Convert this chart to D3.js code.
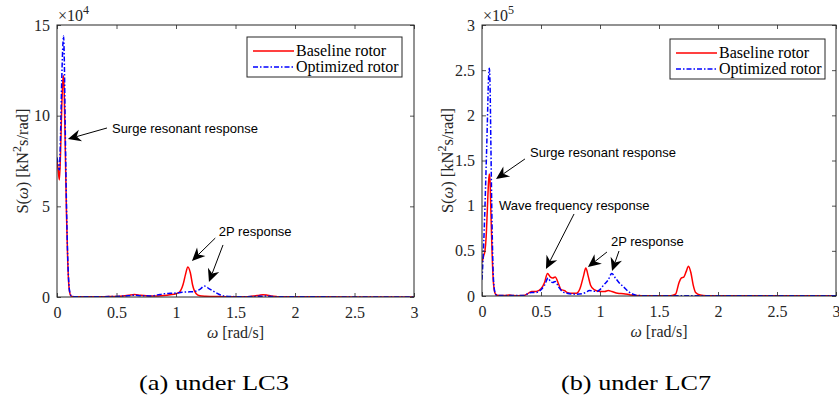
<!DOCTYPE html>
<html><head><meta charset="utf-8">
<script src="https://cdn.jsdelivr.net/npm/d3@7"></script>
<style>body{margin:0;background:#fff} svg{display:block}</style>
</head><body><svg id="c" width="839" height="403"></svg>
<script>
// ---------- DATA ----------
// Panel (a) under LC3, S(w) in units of 1e4 kN^2 s/rad
const freqA_base = [0,0.01,0.02,0.03,0.04,0.05,0.055,0.06,0.07,0.08,0.09,0.1,0.11,0.12,0.15,0.2,0.3,0.4,0.5,0.55,0.6,0.65,0.7,0.75,0.8,0.85,0.9,0.95,1.0,1.03,1.06,1.08,1.1,1.12,1.14,1.17,1.2,1.25,1.3,1.4,1.5,1.6,1.65,1.7,1.73,1.76,1.8,1.85,1.9,2.0,2.5,3.0];
const specA_base = [7.5,7.0,6.45,8.0,10.5,12.0,12.2,11.5,8.0,4.5,2.0,0.6,0.15,0.05,0.01,0.01,0.01,0.02,0.03,0.05,0.09,0.14,0.1,0.07,0.06,0.06,0.08,0.12,0.18,0.28,0.7,1.25,1.65,1.35,0.65,0.18,0.07,0.04,0.03,0.02,0.01,0.02,0.05,0.1,0.13,0.11,0.05,0.02,0.01,0.01,0.005,0.005];
const freqA_opt = [0,0.01,0.02,0.03,0.04,0.05,0.055,0.06,0.07,0.08,0.09,0.1,0.11,0.12,0.15,0.2,0.3,0.4,0.5,0.6,0.65,0.7,0.8,0.85,0.9,0.95,1.0,1.05,1.1,1.15,1.2,1.24,1.28,1.32,1.36,1.4,1.5,1.6,1.7,1.75,1.8,1.9,2.0,2.5,3.0];
const specA_opt = [7.7,7.3,7.0,9.0,12.0,14.0,14.4,13.5,9.0,5.0,2.2,0.7,0.2,0.06,0.02,0.01,0.01,0.02,0.03,0.07,0.1,0.07,0.06,0.12,0.18,0.2,0.22,0.26,0.28,0.3,0.42,0.6,0.45,0.3,0.15,0.06,0.02,0.02,0.04,0.05,0.03,0.01,0.01,0.005,0.005];

// Panel (b) under LC7, S(w) in units of 1e5 kN^2 s/rad
const freqB_base = [0,0.015,0.025,0.035,0.045,0.055,0.062,0.068,0.075,0.085,0.095,0.105,0.115,0.13,0.16,0.2,0.23,0.26,0.3,0.35,0.38,0.42,0.46,0.5,0.53,0.555,0.58,0.6,0.62,0.65,0.67,0.7,0.72,0.76,0.8,0.83,0.86,0.88,0.9,0.92,0.95,1.0,1.04,1.07,1.1,1.15,1.2,1.25,1.3,1.4,1.6,1.64,1.67,1.69,1.71,1.73,1.75,1.77,1.79,1.81,1.85,1.9,2.0,3.0];
const specB_base = [0.37,0.45,0.5,0.65,0.95,1.25,1.35,1.28,0.95,0.5,0.18,0.06,0.02,0.008,0.005,0.005,0.012,0.005,0.004,0.005,0.02,0.05,0.05,0.08,0.15,0.25,0.21,0.2,0.21,0.13,0.07,0.06,0.04,0.03,0.03,0.08,0.22,0.31,0.22,0.12,0.07,0.05,0.05,0.06,0.05,0.03,0.025,0.015,0.005,0.002,0.002,0.02,0.15,0.2,0.21,0.27,0.33,0.26,0.12,0.04,0.01,0.003,0.002,0.002];
const freqB_opt = [0,0.015,0.03,0.045,0.055,0.062,0.068,0.075,0.085,0.095,0.105,0.115,0.13,0.16,0.3,0.35,0.38,0.42,0.46,0.5,0.53,0.56,0.58,0.6,0.62,0.65,0.68,0.72,0.8,0.85,0.88,0.91,0.94,0.97,1.0,1.03,1.07,1.1,1.13,1.16,1.2,1.24,1.28,1.32,1.5,3.0];
const specB_opt = [0.18,0.6,1.2,1.9,2.4,2.52,2.35,1.7,0.8,0.25,0.07,0.02,0.008,0.005,0.005,0.005,0.02,0.04,0.04,0.07,0.12,0.2,0.16,0.15,0.16,0.1,0.05,0.03,0.02,0.025,0.04,0.06,0.055,0.05,0.07,0.12,0.18,0.25,0.2,0.15,0.1,0.05,0.02,0.005,0.002,0.002];

const xTicks = [0,0.5,1,1.5,2,2.5,3];
const yTicksA = [0,5,10,15];
const yTicksB = [0,0.5,1,1.5,2,2.5,3];
const seriesNames = ["Baseline rotor","Optimized rotor"];
const exponents = ["4","5"];
const captions = ["(a) under LC3","(b) under LC7"];

// ---------- DRAWING ----------
const svg = d3.select("#c");
const INK = "#262626";
const SERIF = "Liberation Serif";
const SANS = "Liberation Sans";
const colors = ["#ff0000","#0000ff"];
const dashes = [null,"5,2,1.5,2"];

function arrow(g, x1, y1, x2, y2) {
  const ang = Math.atan2(y2 - y1, x2 - x1);
  const L = 13, W = 6, notch = 9;
  const ux = Math.cos(ang), uy = Math.sin(ang), px = -uy, py = ux;
  const bx = x2 - ux * L, by = y2 - uy * L;
  const nx = x2 - ux * notch, ny = y2 - uy * notch;
  g.append("line").attr("x1", x1).attr("y1", y1).attr("x2", nx).attr("y2", ny)
    .attr("stroke", "#000").attr("stroke-width", 1);
  g.append("path").attr("d", `M${x2},${y2}L${bx + px * W},${by + py * W}L${nx},${ny}L${bx - px * W},${by - py * W}Z`)
    .attr("fill", "#000");
}

function panel(cfg) {
  const g = svg.append("g");
  const x = d3.scaleLinear().domain([0, 3]).range([cfg.left, cfg.right]);
  const y = d3.scaleLinear().domain([0, cfg.ymax]).range([cfg.bottom, cfg.top]);

  const clipId = "clip" + cfg.id;
  svg.append("clipPath").attr("id", clipId).append("rect")
    .attr("x", cfg.left).attr("y", cfg.top).attr("width", cfg.right - cfg.left).attr("height", cfg.bottom - cfg.top);

  const line = d3.line().x(d => x(d[0])).y(d => y(d[1])).curve(d3.curveMonotoneX);
  cfg.series.forEach((s, i) => {
    const pts = s.f.map((f, k) => [f, s.v[k]]);
    g.append("path").datum(pts).attr("clip-path", `url(#${clipId})`)
      .attr("d", line).attr("fill", "none").attr("stroke", colors[i])
      .attr("stroke-width", 1.5).attr("stroke-dasharray", dashes[i]).attr("stroke-linejoin", "round");
  });

  const fmt = d3.format("~g");
  const styleAxis = sel => {
    sel.attr("font-family", null).attr("font-size", null);
    sel.select(".domain").remove();
    sel.selectAll("line").attr("stroke", INK).attr("stroke-width", 0.8);
    sel.selectAll("text").attr("fill", INK).attr("font-family", SERIF).attr("font-size", 16);
  };
  g.append("g").attr("transform", `translate(0,${cfg.bottom})`)
    .call(d3.axisBottom(x).tickValues(xTicks).tickSize(-4).tickSizeOuter(0).tickPadding(10).tickFormat(fmt)).call(styleAxis);
  g.append("g").attr("transform", `translate(0,${cfg.top})`)
    .call(d3.axisTop(x).tickValues(xTicks).tickSize(-4).tickSizeOuter(0).tickFormat("")).call(styleAxis);
  g.append("g").attr("transform", `translate(${cfg.left},0)`)
    .call(d3.axisLeft(y).tickValues(cfg.yTicks).tickSize(-4).tickSizeOuter(0).tickPadding(7).tickFormat(fmt)).call(styleAxis);
  g.append("g").attr("transform", `translate(${cfg.right},0)`)
    .call(d3.axisRight(y).tickValues(cfg.yTicks).tickSize(-4).tickSizeOuter(0).tickFormat("")).call(styleAxis);

  g.append("rect").attr("x", cfg.left).attr("y", cfg.top)
    .attr("width", cfg.right - cfg.left).attr("height", cfg.bottom - cfg.top)
    .attr("fill", "none").attr("stroke", INK).attr("stroke-width", 1);

  // exponent
  const ex = g.append("text").attr("x", cfg.left + 1).attr("y", cfg.top - 4)
    .attr("fill", INK).attr("font-family", SERIF).attr("font-size", 16);
  ex.append("tspan").text("\u00d710");
  ex.append("tspan").attr("dy", -7).attr("font-size", 12).text(cfg.exp);

  // y label
  const cy = (cfg.top + cfg.bottom) / 2;
  const yl = g.append("text").attr("transform", `translate(${cfg.left - 29},${cy}) rotate(-90)`)
    .attr("text-anchor", "middle").attr("fill", INK).attr("font-family", SERIF).attr("font-size", 16.5);
  yl.append("tspan").text("S(");
  yl.append("tspan").attr("font-style", "italic").text("\u03c9");
  yl.append("tspan").text(") [kN");
  yl.append("tspan").attr("dy", -7).attr("font-size", 12).text("2");
  yl.append("tspan").attr("dy", 7).text("s/rad]");

  // x label
  const xl = g.append("text").attr("x", (cfg.left + cfg.right) / 2).attr("y", cfg.bottom + 41)
    .attr("text-anchor", "middle").attr("fill", INK).attr("font-family", SERIF).attr("font-size", 16);
  xl.append("tspan").attr("font-style", "italic").text("\u03c9");
  xl.append("tspan").text(" [rad/s]");

  // legend
  const lg = g.append("g");
  lg.append("rect").attr("x", cfg.leg[0]).attr("y", cfg.leg[1]).attr("width", 155).attr("height", 40)
    .attr("fill", "#fff").attr("stroke", INK).attr("stroke-width", 1);
  seriesNames.forEach((n, i) => {
    const yy = cfg.leg[1] + 14 + i * 16;
    lg.append("line").attr("x1", cfg.leg[0] + 6).attr("x2", cfg.leg[0] + 47).attr("y1", yy).attr("y2", yy)
      .attr("stroke", colors[i]).attr("stroke-width", 1.5).attr("stroke-dasharray", dashes[i]);
    lg.append("text").attr("x", cfg.leg[0] + 49).attr("y", yy + 5).attr("fill", "#000")
      .attr("font-family", SERIF).attr("font-size", 16).text(n);
  });

  // annotations (positions in data units)
  cfg.notes.forEach(n => {
    g.append("text").attr("x", x(n.tx)).attr("y", y(n.ty)).attr("dy", "0.35em")
      .attr("fill", "#000").attr("font-family", SANS).attr("font-size", 13).text(n.text);
    n.arrows.forEach(a => arrow(g, x(a[0]), y(a[1]), x(a[2]), y(a[3])));
  });

  // caption
  g.append("text").attr("x", cfg.capX).attr("y", 390).attr("text-anchor", "middle")
    .attr("fill", "#000").attr("font-family", SERIF).attr("font-size", 21)
    .attr("textLength", 150).attr("lengthAdjust", "spacingAndGlyphs").text(cfg.caption);
}

panel({
  id: "a", left: 57, right: 414, top: 25, bottom: 297, ymax: 15, yTicks: yTicksA, exp: exponents[0],
  series: [{f: freqA_base, v: specA_base}, {f: freqA_opt, v: specA_opt}],
  leg: [247, 37], capX: 214, caption: captions[0],
  notes: [
    {text: "Surge resonant response", tx: 0.462, ty: 9.27, arrows: [[0.42, 9.32, 0.092, 8.71]]},
    {text: "2P response", tx: 1.36, ty: 3.64, arrows: [[1.33, 3.25, 1.134, 1.99], [1.395, 2.87, 1.277, 0.83]]}
  ]
});
panel({
  id: "b", left: 482, right: 836, top: 25, bottom: 296, ymax: 3, yTicks: yTicksB, exp: exponents[1],
  series: [{f: freqB_base, v: specB_base}, {f: freqB_opt, v: specB_opt}],
  leg: [670, 39], capX: 636, caption: captions[1],
  notes: [
    {text: "Surge resonant response", tx: 0.407, ty: 1.584, arrows: [[0.364, 1.517, 0.119, 1.296]]},
    {text: "Wave frequency response", tx: 0.144, ty: 0.997, arrows: [[0.78, 0.908, 0.542, 0.299]]},
    {text: "2P response", tx: 1.093, ty: 0.609, arrows: [[1.059, 0.487, 0.898, 0.321], [1.161, 0.498, 1.102, 0.277]]}
  ]
});
</script>
</body></html>
